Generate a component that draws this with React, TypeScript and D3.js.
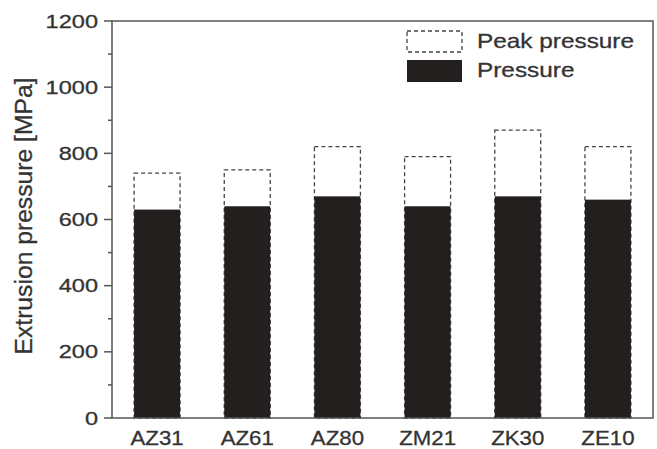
import React, { useEffect, useRef } from 'react';
import * as d3 from 'd3';

const alloys = ['AZ31', 'AZ61', 'AZ80', 'ZM21', 'ZK30', 'ZE10'];
const pressure = [630, 640, 670, 640, 670, 660];
const peakPressure = [740, 750, 820, 790, 870, 820];
const yTicks = [0, 200, 400, 600, 800, 1000, 1200];
const yMinorTicks = [100, 300, 500, 700, 900, 1100];

const W = 657;
const H = 449;
const FONT = '"Liberation Sans", Arial, sans-serif';
const TEXT = '#333';
const AXIS = '#555';
const BAR = '#231f1e';

export default function App() {
  const ref = useRef<SVGSVGElement | null>(null);

  useEffect(() => {
    const svg = d3.select(ref.current);
    svg.selectAll('*').remove();

    const left = 112, right = 653, top = 21, bottom = 418;

    const x = d3.scaleBand<string>()
      .domain(alloys)
      .range([left, right])
      .paddingInner(0.49)
      .paddingOuter(0.245);

    const y = d3.scaleLinear().domain([0, 1200]).range([bottom, top]);

    // peak pressure (dashed outline) first, pressure on top
    svg.append('g')
      .selectAll('rect')
      .data(alloys)
      .enter()
      .append('rect')
      .attr('x', (d) => x(d)!)
      .attr('y', (d, i) => y(peakPressure[i]))
      .attr('width', x.bandwidth())
      .attr('height', (d, i) => y(0) - y(peakPressure[i]))
      .attr('fill', 'white')
      .attr('stroke', '#444')
      .attr('stroke-width', 1.3)
      .attr('stroke-dasharray', '4,3');

    svg.append('g')
      .selectAll('rect')
      .data(alloys)
      .enter()
      .append('rect')
      .attr('x', (d) => x(d)!)
      .attr('y', (d, i) => y(pressure[i]))
      .attr('width', x.bandwidth())
      .attr('height', (d, i) => y(0) - y(pressure[i]))
      .attr('fill', BAR);

    // frame
    svg.append('rect')
      .attr('x', left)
      .attr('y', top)
      .attr('width', right - left)
      .attr('height', bottom - top)
      .attr('fill', 'none')
      .attr('stroke', AXIS)
      .attr('stroke-width', 1.5);

    // y ticks
    const yAxis = svg.append('g');
    yAxis.selectAll('line.major')
      .data(yTicks)
      .enter()
      .append('line')
      .attr('class', 'major')
      .attr('x1', left - 8)
      .attr('x2', left)
      .attr('y1', (d) => y(d))
      .attr('y2', (d) => y(d))
      .attr('stroke', AXIS)
      .attr('stroke-width', 1.5);
    yAxis.selectAll('line.minor')
      .data(yMinorTicks)
      .enter()
      .append('line')
      .attr('class', 'minor')
      .attr('x1', left - 4)
      .attr('x2', left)
      .attr('y1', (d) => y(d))
      .attr('y2', (d) => y(d))
      .attr('stroke', AXIS)
      .attr('stroke-width', 1.5);
    yAxis.selectAll('text')
      .data(yTicks)
      .enter()
      .append('text')
      .attr('transform', (d) => `translate(98,${y(d)}) scale(1.24,1)`)
      .attr('dy', '0.35em')
      .attr('text-anchor', 'end')
      .attr('font-family', FONT)
      .attr('font-size', 19)
      .attr('fill', TEXT)
      .attr('stroke', TEXT)
      .attr('stroke-width', 0.3)
      .text((d) => d);

    // x labels
    svg.append('g')
      .selectAll('text')
      .data(alloys)
      .enter()
      .append('text')
      .attr('transform', (d) => `translate(${x(d)! + x.bandwidth() / 2},445) scale(1.06,1)`)
      .attr('text-anchor', 'middle')
      .attr('font-family', FONT)
      .attr('font-size', 21)
      .attr('fill', TEXT)
      .attr('stroke', TEXT)
      .attr('stroke-width', 0.3)
      .text((d) => d);

    // y title
    svg.append('text')
      .attr('transform', 'translate(32,216) rotate(-90)')
      .attr('text-anchor', 'middle')
      .attr('font-family', FONT)
      .attr('font-size', 23)
      .attr('fill', TEXT)
      .attr('stroke', TEXT)
      .attr('stroke-width', 0.3)
      .attr('textLength', 277)
      .attr('lengthAdjust', 'spacingAndGlyphs')
      .text('Extrusion pressure [MPa]');

    // legend
    const legend = svg.append('g');
    legend.append('rect')
      .attr('x', 407).attr('y', 31).attr('width', 55).attr('height', 21)
      .attr('fill', 'white')
      .attr('stroke', '#444')
      .attr('stroke-width', 1.3)
      .attr('stroke-dasharray', '4,3');
    legend.append('rect')
      .attr('x', 407).attr('y', 60).attr('width', 55).attr('height', 22)
      .attr('fill', BAR);
    legend.selectAll('text')
      .data([['Peak pressure', 48], ['Pressure', 77]])
      .enter()
      .append('text')
      .attr('transform', (d) => `translate(477,${d[1]}) scale(1.16,1)`)
      .attr('font-family', FONT)
      .attr('font-size', 21)
      .attr('fill', TEXT)
      .attr('stroke', TEXT)
      .attr('stroke-width', 0.3)
      .text((d) => d[0] as string);
  }, []);

  return (
    <svg
      ref={ref}
      width={W}
      height={H}
      style={{ position: 'absolute', left: 0, top: 0, background: 'white' }}
    />
  );
}
